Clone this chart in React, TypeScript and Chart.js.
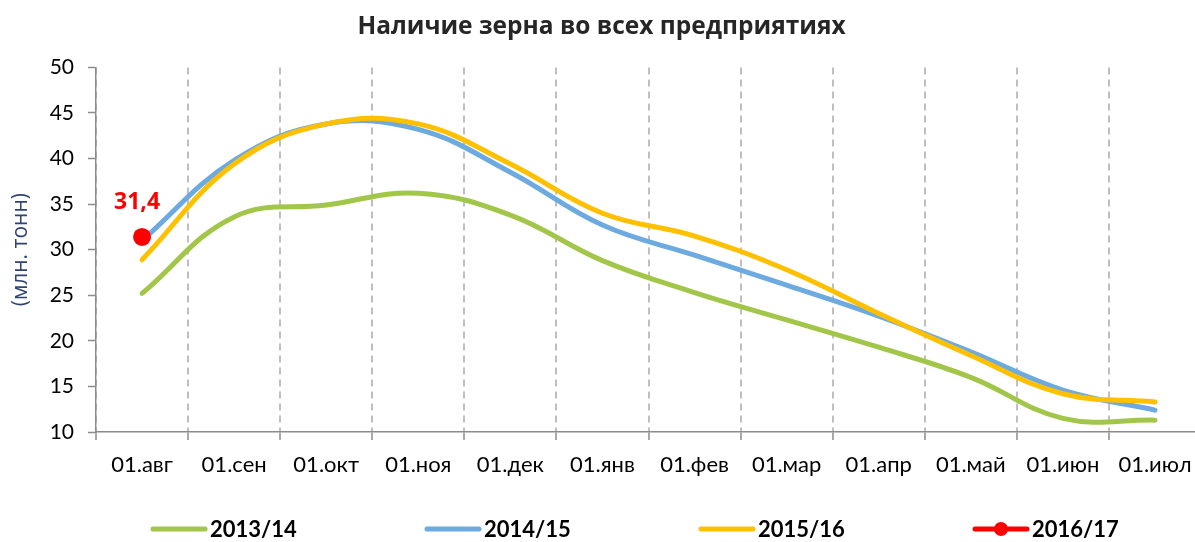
import React, { useEffect, useRef } from "react";
import { Chart, registerables } from "chart.js";

Chart.register(...registerables);

const categories = ["01.авг", "01.сен", "01.окт", "01.ноя", "01.дек", "01.янв", "01.фев", "01.мар", "01.апр", "01.май", "01.июн", "01.июл"];
const s2013 = [25.2, 33.6, 34.9, 36.2, 33.8, 28.8, 25.3, 22.3, 19.3, 16.0, 11.5, 11.3];
const s2014 = [31.0, 39.8, 43.8, 43.2, 38.5, 32.7, 29.4, 26.1, 22.7, 18.8, 14.6, 12.4];
const s2015 = [28.9, 39.4, 43.8, 43.8, 39.4, 34.0, 31.5, 27.8, 23.0, 18.4, 14.2, 13.3];
const s2016 = [31.4, null, null, null, null, null, null, null, null, null, null, null];
const seriesLabels = ["2013/14", "2014/15", "2015/16", "2016/17"];
const seriesColors = ["#A2C64A", "#6DAADF", "#FFC000", "#FF0000"];
const yTicks = { min: 10, max: 50, step: 5 };
const titleText = "Наличие зерна во всех предприятиях";
const yTitle = "(млн. тонн)";

const CANVAS_W = 1210;
const CANVAS_H = 542;

const legendPlugin = {
  id: "customLegend",
  afterDraw(chart: any) {
    const ctx = chart.ctx;
    ctx.save();
    ctx.font = "bold 22px Lato, 'Open Sans', sans-serif";
    const sampleW = 56;
    const gap = 3;
    const spacing = 274;
    const startX = 151;
    const y = 529;
    seriesLabels.forEach((lab, i) => {
      const x0 = startX + i * spacing;
      ctx.strokeStyle = seriesColors[i];
      ctx.lineWidth = 5;
      ctx.lineCap = "round";
      ctx.beginPath();
      ctx.moveTo(x0 + 2, y);
      ctx.lineTo(x0 + sampleW - 2, y);
      ctx.stroke();
      if (i === 3) {
        ctx.fillStyle = seriesColors[i];
        ctx.beginPath();
        ctx.arc(x0 + sampleW / 2, y, 7, 0, Math.PI * 2);
        ctx.fill();
      }
      ctx.fillStyle = "#000000";
      ctx.textAlign = "left";
      ctx.textBaseline = "middle";
      ctx.fillText(lab, x0 + sampleW + gap, y + 1);
    });
    ctx.restore();
  },
};

const pointLabelPlugin = {
  id: "pointLabel",
  afterDatasetsDraw(chart: any) {
    const ctx = chart.ctx;
    const meta = chart.getDatasetMeta(3);
    ctx.save();
    ctx.font = "bold 23px 'Open Sans', sans-serif";
    ctx.fillStyle = "#FF0000";
    ctx.textAlign = "center";
    ctx.textBaseline = "middle";
    s2016.forEach((v, i) => {
      if (v === null) return;
      const el = meta.data[i];
      ctx.fillText(String(v).replace(".", ","), el.x - 5, el.y - 34);
    });
    ctx.restore();
  },
};

export default function App() {
  const ref = useRef<HTMLCanvasElement>(null);
  useEffect(() => {
    if (!ref.current) return;
    const mk = (i: number, data: (number | null)[], order: number) => ({
      label: seriesLabels[i],
      data,
      borderColor: seriesColors[i],
      backgroundColor: seriesColors[i],
      borderWidth: 5,
      borderCapStyle: "round" as const,
      borderJoinStyle: "round" as const,
      pointRadius: 0,
      tension: 0.4,
      order,
    });
    const chart = new Chart(ref.current, {
      type: "line",
      data: {
        labels: categories,
        datasets: [
          mk(0, s2013, 3),
          mk(1, s2014, 2),
          mk(2, s2015, 1),
          { ...mk(3, s2016, 0), pointRadius: 9, pointHoverRadius: 9, pointBorderWidth: 0 },
        ],
      },
      options: {
        responsive: false,
        animation: false,
        layout: { padding: { left: 0, right: 7, top: 0, bottom: 40 } },
        plugins: {
          legend: { display: false },
          tooltip: { enabled: false },
          title: {
            display: true,
            text: titleText,
            color: "#262626",
            font: { family: "'Open Sans', sans-serif", size: 24.5, weight: "bold" },
            padding: { top: 12, bottom: 26 },
          },
        },
        scales: {
          x: {
            type: "category",
            offset: true,
            grid: {
              offset: true,
              drawOnChartArea: true,
              drawTicks: true,
              tickLength: 8,
              color: "#BFBFBF",
              lineWidth: 2,
              tickColor: "#8C8C8C",
              tickWidth: 1.5,
              tickBorderDash: [],
            },
            border: { display: true, color: "#8C8C8C", width: 1.5, dash: [7, 5] },
            ticks: {
              color: "#000000",
              font: { family: "Lato, 'Open Sans', sans-serif", size: 22 },
              padding: 12,
              maxRotation: 0,
              autoSkip: false,
            },
            afterFit: (s: any) => {
              s.height = 70;
            },
          },
          y: {
            min: yTicks.min,
            max: yTicks.max,
            grid: {
              drawOnChartArea: false,
              drawTicks: true,
              tickLength: 8,
              color: "#8C8C8C",
              tickColor: "#8C8C8C",
              tickWidth: 1.5,
            },
            border: { display: true, color: "#8C8C8C", width: 1.5 },
            ticks: {
              stepSize: yTicks.step,
              color: "#000000",
              font: { family: "Lato, 'Open Sans', sans-serif", size: 21 },
              padding: 14,
            },
            title: {
              display: true,
              text: yTitle,
              color: "#2E4573",
              font: { family: "'Open Sans', sans-serif", size: 21 },
              padding: { top: 8, bottom: 0 },
            },
            afterFit: (s: any) => {
              s.width = 96;
            },
          },
        },
      },
      plugins: [legendPlugin, pointLabelPlugin],
    });
    return () => chart.destroy();
  }, []);
  return (
    <div
      style={{
        position: "fixed",
        left: 0,
        top: 0,
        width: 1195,
        height: CANVAS_H,
        overflow: "hidden",
        background: "#ffffff",
      }}
    >
      <canvas ref={ref} width={CANVAS_W} height={CANVAS_H} style={{ display: "block" }} />
    </div>
  );
}
